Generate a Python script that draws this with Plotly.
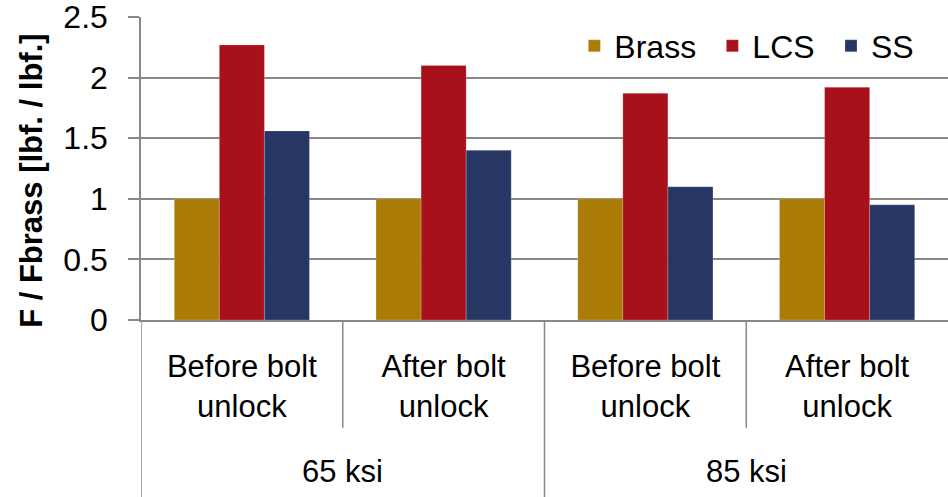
import plotly.graph_objs as go

# data
conditions = ['Before bolt<br>unlock', 'After bolt<br>unlock', 'Before bolt<br>unlock', 'After bolt<br>unlock']
stress = ['65 ksi', '85 ksi']
brass = [1.0, 1.0, 1.0, 1.0]
lcs = [2.27, 2.10, 1.87, 1.92]
ss = [1.56, 1.40, 1.10, 0.95]

colors = {'Brass': '#AA7C06', 'LCS': '#A8101A', 'SS': '#263764'}
grid = '#888888'
font = 'Liberation Sans, Arial, sans-serif'
fs = 31

x = list(range(len(conditions)))

# one legend per series so each entry sits where the reference has it
series = [('Brass', brass, 'legend', 0.537), ('LCS', lcs, 'legend2', 0.708), ('SS', ss, 'legend3', 0.855)]

fig = go.Figure()
for name, vals, leg, lx in series:
    fig.add_trace(go.Bar(x=x, y=vals, name=name, marker_color=colors[name], legend=leg,
                         marker_line=dict(color='rgba(255,255,255,0.4)', width=0.5)))

legs = {}
for name, vals, leg, lx in series:
    legs[leg] = dict(orientation='h', x=lx, xanchor='left', y=0.995, yanchor='top',
                     font=dict(size=32), bgcolor='rgba(0,0,0,0)')

fig.update_layout(
    width=948, height=497,
    margin=dict(l=141, r=0, t=17, b=177),
    plot_bgcolor='white', paper_bgcolor='white',
    barmode='group', bargap=0.33, bargroupgap=0,
    font=dict(family=font, size=fs, color='black'),
    showlegend=True,
    **legs,
)

fig.update_yaxes(range=[0, 2.5], tickvals=[0, 0.5, 1, 1.5, 2, 2.5],
                 ticktext=['0', '0.5', '1', '1.5', '2', '2.5'],
                 showgrid=True, gridcolor=grid, gridwidth=1.5,
                 showline=True, linecolor=grid, linewidth=1.5,
                 ticks='outside', ticklen=11, tickcolor=grid, tickwidth=1.5,
                 ticklabelstandoff=14, tickfont=dict(size=32), ticklabeloverflow='allow',
                 zeroline=False, automargin=False)

fig.update_xaxes(range=[-0.5, 3.5], tickvals=x, ticktext=conditions,
                 showline=True, linecolor=grid, linewidth=1.5,
                 ticks='', showgrid=False, zeroline=False, ticklabelstandoff=18,
                 automargin=False)

# y axis title
fig.add_annotation(x=-0.136, y=0.46, xref='paper', yref='paper',
                   text='<b>F / Fbrass [lbf. / lbf.]</b>', textangle=-90,
                   showarrow=False, font=dict(size=fs), xanchor='center', yanchor='middle')

# category dividers below the axis
for pos in [0.5, 2.5]:
    fig.add_shape(type='line', xref='x', yref='paper', x0=pos, x1=pos, y0=0, y1=-0.356,
                  line=dict(color=grid, width=1.5))
for pos in [-0.5, 1.5]:
    fig.add_shape(type='line', xref='x', yref='paper', x0=pos, x1=pos, y0=0, y1=-0.6,
                  line=dict(color=grid, width=1.5))

# outer group labels
for i, s in enumerate(stress):
    fig.add_annotation(x=2 * i + 0.5, y=-0.5, xref='x', yref='paper', text=s,
                       showarrow=False, font=dict(size=fs), yanchor='middle')

# drop the default 8px body margin so the figure fills the window
fig.write_html("out.html", config={'displayModeBar': False},
               post_script="document.body.style.margin='0';")
